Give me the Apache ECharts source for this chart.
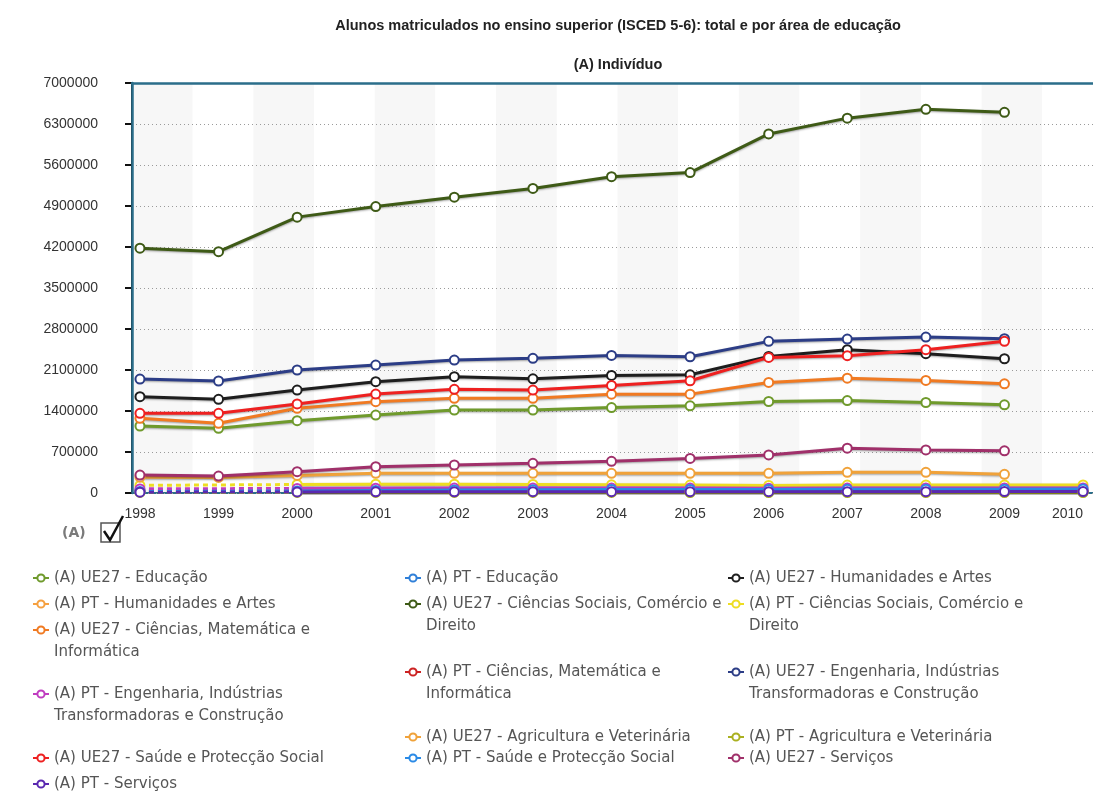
<!DOCTYPE html>
<html>
<head>
<meta charset="utf-8">
<title>Alunos matriculados no ensino superior</title>
<script src="https://cdn.jsdelivr.net/npm/echarts@6/dist/echarts.min.js"></script>
<style>
  html, body { margin: 0; padding: 0; background: #ffffff; }
  #chart { width: 1093px; height: 792px; }
</style>
</head>
<body>
<div id="chart"></div>
<script>
// Anos lectivos (eixo horizontal)
const years = [1998, 1999, 2000, 2001, 2002, 2003, 2004, 2005, 2006, 2007, 2008, 2009, 2010];

// Escala do eixo vertical
const yMax = 7000000;
const yStep = 700000;

// UE27 — 1998..2009
const ue27Educacao      = [1144000, 1104000, 1235000, 1330000, 1417000, 1417000, 1459000, 1488000, 1562000, 1579000, 1545000, 1505000];
const ue27Humanidades   = [1644000, 1600000, 1758000, 1900000, 1986000, 1950000, 2007000, 2018000, 2332000, 2446000, 2378000, 2292000];
const ue27CSociais      = [4180000, 4120000, 4710000, 4890000, 5050000, 5200000, 5400000, 5470000, 6130000, 6400000, 6550000, 6500000];
const ue27Ciencias      = [1275000, 1190000, 1446000, 1560000, 1617000, 1617000, 1688000, 1688000, 1887000, 1961000, 1921000, 1864000];
const ue27Engenharia    = [1946000, 1912000, 2100000, 2185000, 2270000, 2300000, 2349000, 2326000, 2589000, 2629000, 2663000, 2635000];
const ue27Agricultura   = [270000, 265000, 300000, 336000, 336000, 336000, 336000, 336000, 336000, 353000, 353000, 319000];
const ue27Saude         = [1360000, 1360000, 1520000, 1690000, 1770000, 1758000, 1836000, 1916000, 2315000, 2344000, 2446000, 2589000];
const ue27Servicos      = [307000, 290000, 364000, 449000, 478000, 507000, 540000, 590000, 650000, 765000, 735000, 720000];

// PT — 1998..2010 (sem valor em 1999)
const ptEducacao        = [45000, null, 46000, 42000, 38000, 36000, 33000, 29000, 25000, 22000, 20000, 20000, 20000];
const ptHumanidades     = [30000, null, 32000, 32000, 32000, 31000, 30000, 30000, 30000, 31000, 32000, 33000, 34000];
const ptCSociais        = [130000, null, 145000, 150000, 150000, 145000, 140000, 135000, 130000, 135000, 137000, 137000, 137000];
const ptCiencias        = [25000, null, 29000, 30000, 30000, 29000, 29000, 29000, 28000, 27000, 27000, 27000, 27000];
const ptEngenharia      = [70000, null, 78000, 82000, 85000, 85000, 85000, 84000, 83000, 85000, 86000, 86000, 87000];
const ptAgricultura     = [9000, null, 10000, 10000, 10000, 10000, 9000, 8000, 7000, 7000, 7000, 7000, 7000];
const ptSaude           = [25000, null, 36000, 44000, 52000, 57000, 60000, 60000, 60000, 62000, 64000, 66000, 68000];
const ptServicos        = [14000, null, 18000, 20000, 21000, 22000, 22000, 22000, 22000, 22000, 23000, 24000, 25000];

// Séries pela ordem da legenda
const seriesDefs = [
  { name: '(A) UE27 - Educação', color: '#6f9a2c', values: ue27Educacao },
  { name: '(A) PT - Educação', color: '#2f7fd8', values: ptEducacao },
  { name: '(A) UE27 - Humanidades e Artes', color: '#1e1e1e', values: ue27Humanidades },
  { name: '(A) PT - Humanidades e Artes', color: '#f5a040', values: ptHumanidades },
  { name: '(A) UE27 - Ciências Sociais, Comércio e Direito', color: '#3e5a16', values: ue27CSociais },
  { name: '(A) PT - Ciências Sociais, Comércio e Direito', color: '#eedd22', values: ptCSociais },
  { name: '(A) UE27 - Ciências, Matemática e Informática', color: '#f07a22', values: ue27Ciencias },
  { name: '(A) PT - Ciências, Matemática e Informática', color: '#cc2222', values: ptCiencias },
  { name: '(A) UE27 - Engenharia, Indústrias Transformadoras e Construção', color: '#2c3d86', values: ue27Engenharia },
  { name: '(A) PT - Engenharia, Indústrias Transformadoras e Construção', color: '#c03cc0', values: ptEngenharia },
  { name: '(A) UE27 - Agricultura e Veterinária', color: '#f0a23a', values: ue27Agricultura },
  { name: '(A) PT - Agricultura e Veterinária', color: '#aab020', values: ptAgricultura },
  { name: '(A) UE27 - Saúde e Protecção Social', color: '#ee2020', values: ue27Saude },
  { name: '(A) PT - Saúde e Protecção Social', color: '#2a8ae6', values: ptSaude },
  { name: '(A) UE27 - Serviços', color: '#a0306a', values: ue27Servicos },
  { name: '(A) PT - Serviços', color: '#5a28b0', values: ptServicos }
];

// Posição de cada entrada da legenda: [esquerda, centro vertical da 1.ª linha]
const legendSlots = [
  [32, 578], [404, 578], [727, 578],
  [32, 604], [404, 604], [727, 604],
  [32, 630], [404, 672], [727, 672],
  [32, 694], [404, 737], [727, 737],
  [32, 758], [404, 758], [727, 758],
  [32, 784]
];

function wrapLabel(text, maxChars) {
  const words = text.split(' ');
  const lines = [];
  let cur = '';
  for (const w of words) {
    const t = cur ? cur + ' ' + w : w;
    if (t.length > maxChars && cur) { lines.push(cur); cur = w; }
    else cur = t;
  }
  lines.push(cur);
  return lines;
}

const gridLeft = 132, gridTop = 83, gridBottomY = 493, gridRightX = 1098;
const pxPerYear = 79;
const xMin = years[0] - (140 - gridLeft) / pxPerYear;
const xMax = years[0] + (gridRightX - 140) / pxPerYear;
const frameColor = '#2b6e8a';

const series = [];
seriesDefs.forEach(def => {
  const pts = def.values.map((v, i) => [years[i], v]);
  series.push({
    name: def.name,
    type: 'line',
    data: pts,
    color: def.color,
    symbol: 'emptyCircle',
    symbolSize: 9,
    showAllSymbol: true,
    connectNulls: false,
    lineStyle: { width: 3, color: def.color, shadowColor: 'rgba(0,0,0,0.35)', shadowBlur: 2, shadowOffsetY: 1 },
    itemStyle: { color: def.color, borderWidth: 1.6 },
    emphasis: { disabled: true }
  });
  // troço tracejado sobre o ano sem valor
  const gapIdx = def.values.indexOf(null);
  if (gapIdx > 0) {
    const bridge = def.values.map((v, i) => [years[i], (i === gapIdx - 1 || i === gapIdx + 1) ? v : null]);
    series.push({
      name: def.name,
      type: 'line',
      data: bridge,
      color: def.color,
      symbol: 'none',
      connectNulls: true,
      lineStyle: { width: 3, color: def.color, type: [5, 4] },
      emphasis: { disabled: true },
      z: 1
    });
  }
});

const legendFont = { fontFamily: 'DejaVu Sans', fontSize: 15, color: '#555555' };
const iconW = 16, textGap = 5;
const legends = [];
const legendExtraLines = [];
seriesDefs.forEach((def, i) => {
  const lines = wrapLabel(def.name, 39);
  const [lx, ly] = legendSlots[i];
  legends.push({
    data: [def.name],
    left: lx,
    top: ly - 9,
    padding: 0,
    itemWidth: iconW,
    itemHeight: 9,
    itemGap: 0,
    formatter: () => lines[0],
    textStyle: Object.assign({ lineHeight: 18 }, legendFont)
  });
  // linhas seguintes do rótulo
  lines.slice(1).forEach((ln, k) => {
    legendExtraLines.push({
      type: 'text',
      x: lx + iconW + textGap + 1,
      y: ly + 22 * (k + 1),
      style: {
        text: ln,
        font: legendFont.fontSize + 'px "' + legendFont.fontFamily + '"',
        fill: legendFont.color,
        verticalAlign: 'middle',
        align: 'left'
      }
    });
  });
});

const chart = echarts.init(document.getElementById('chart'), null, { renderer: 'canvas' });
chart.setOption({
  animation: false,
  backgroundColor: '#ffffff',
  title: [
    {
      text: 'Alunos matriculados no ensino superior (ISCED 5-6): total e por área de educação',
      left: 613, top: 13, textAlign: 'center',
      textStyle: { fontFamily: 'Liberation Sans', fontSize: 14.5, fontWeight: 'bold', color: '#222222' }
    },
    {
      text: '(A) Indivíduo',
      left: 613, top: 52, textAlign: 'center',
      textStyle: { fontFamily: 'Liberation Sans', fontSize: 14.5, fontWeight: 'bold', color: '#222222' }
    }
  ],
  grid: { left: gridLeft, top: gridTop, right: 1093 - gridRightX, bottom: 792 - gridBottomY, show: false },
  xAxis: [
    {
      type: 'value', min: xMin, max: xMax,
      axisLine: { show: true, lineStyle: { color: frameColor, width: 2 } },
      axisTick: { show: false },
      splitLine: { show: false },
      axisLabel: {
        customValues: years,
        formatter: v => String(Math.round(v)),
        fontFamily: 'Liberation Sans', fontSize: 14, color: '#333333', margin: 14,
        alignMaxLabel: 'right'
      }
    },
    {
      // faixas verticais de fundo
      type: 'value', position: 'top', min: 0, max: (gridRightX - gridLeft) / 61, interval: 1, z: 0,
      axisLine: { show: false },
      axisTick: { show: false }, axisLabel: { show: false }, splitLine: { show: false },
      splitArea: { show: true, areaStyle: { color: ['#f7f7f7', '#ffffff'] } }
    },
    {
      // moldura superior da área do gráfico
      type: 'value', position: 'top', offset: 0, min: 0, max: 1, z: 3,
      axisLine: { show: true, lineStyle: { color: frameColor, width: 2.5 } },
      axisTick: { show: false }, axisLabel: { show: false }, splitLine: { show: false }
    }
  ],
  yAxis: [
    {
      type: 'value', min: 0, max: yMax, interval: yStep, offset: 24, z: 1,
      axisLine: { show: true, lineStyle: { color: '#111111', width: 2 } },
      axisTick: { show: true, length: 7, lineStyle: { color: '#111111', width: 2 } },
      axisLabel: { fontFamily: 'Liberation Sans', fontSize: 14, color: '#333333', margin: 10, formatter: v => String(v) },
      splitLine: { show: true, lineStyle: { color: '#9a9a9a', type: [1, 3], width: 1 } }
    },
    {
      type: 'value', position: 'left', min: 0, max: yMax, offset: 0, z: 3,
      axisLine: { show: true, lineStyle: { color: frameColor, width: 2.5 } },
      axisTick: { show: false }, axisLabel: { show: false }, splitLine: { show: false }
    }
  ],
  legend: legends,
  series: series,
  graphic: legendExtraLines.concat([
    { type: 'text', left: 62, top: 526, style: { text: '(A)', font: 'bold 14px "DejaVu Sans"', fill: '#7a7a7a' } },
    { type: 'rect', shape: { x: 101, y: 523, width: 19, height: 19 }, style: { fill: '#ffffff', stroke: '#555555', lineWidth: 1.5 } },
    { type: 'polyline', shape: { points: [[104, 531], [110, 540], [123, 516]] }, style: { stroke: '#111111', lineWidth: 2.5, fill: null } }
  ])
});
</script>
</body>
</html>
